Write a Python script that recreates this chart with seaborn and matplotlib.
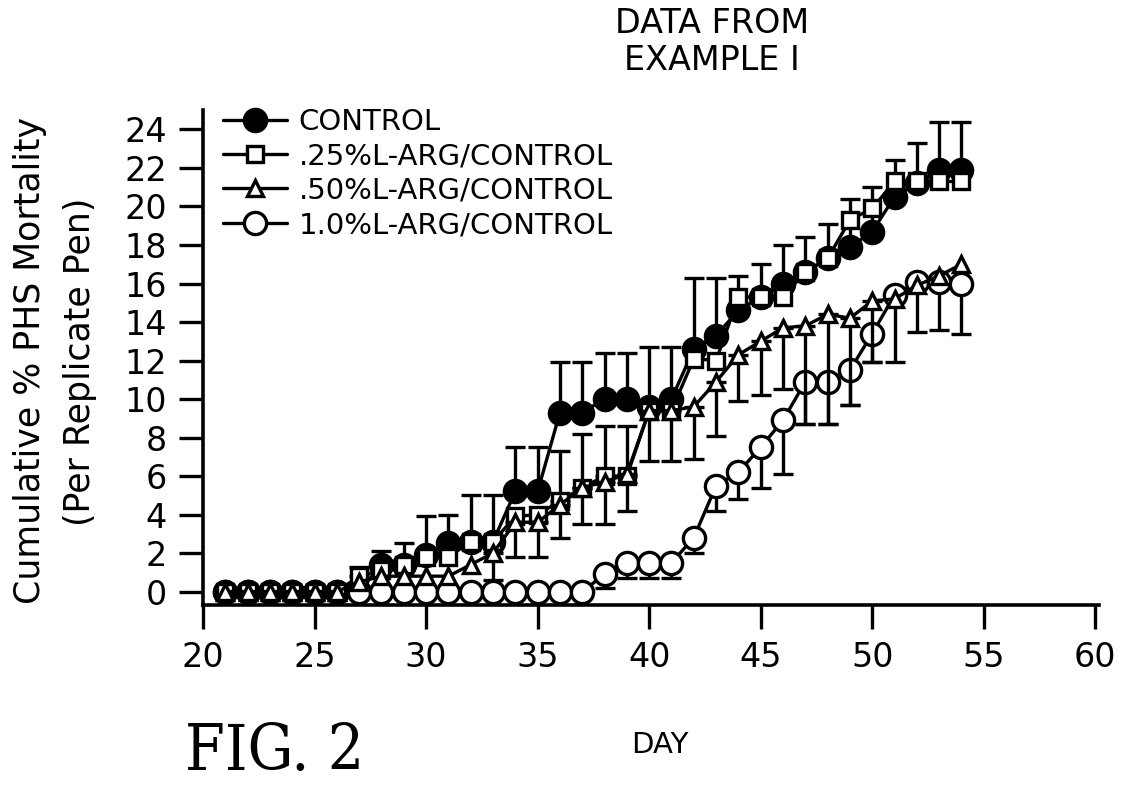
import numpy as np
import pandas as pd
import matplotlib
matplotlib.use("Agg")
import matplotlib.pyplot as plt
import seaborn as sns

# days 21..54
days = list(range(21, 55))

labels = ["CONTROL", ".25%L-ARG/CONTROL", ".50%L-ARG/CONTROL", "1.0%L-ARG/CONTROL"]

control = [0, 0, 0, 0, 0, 0, 0, 1.4, 1.4, 1.9, 2.5, 2.6, 2.6, 5.2, 5.2, 9.3, 9.3,
           10.0, 10.0, 9.6, 10.0, 12.6, 13.3, 14.6, 15.3, 16.0, 16.6, 17.3, 17.9,
           18.7, 20.5, 21.2, 21.9, 21.9]
control_up = [0, 0, 0, 0, 0, 0, 0, 0.7, 0, 0, 1.5, 0, 0, 2.3, 2.3, 2.6, 2.6,
              2.4, 2.4, 3.1, 2.7, 3.7, 3.0, 1.8, 1.7, 2.0, 1.8, 1.8, 2.5,
              2.3, 1.9, 2.1, 2.5, 2.5]

arg25 = [0, 0, 0, 0, 0, 0, 0.8, 1.1, 1.4, 1.8, 1.8, 2.6, 2.6, 3.9, 4.0, 4.7, 5.4,
         6.0, 6.0, 9.4, 9.4, 12.1, 12.0, 15.3, 15.3, 15.3, 16.6, 17.3, 19.3,
         19.9, 21.3, 21.3, 21.3, 21.3]
arg25_up = [0, 0, 0, 0, 0, 0, 0.5, 0, 1.1, 2.1, 0, 2.4, 2.4, 0, 0, 2.6, 2.8,
            2.6, 2.6, 0, 0, 0, 0, 0, 0, 0, 0, 0, 0,
            0, 0, 0, 0, 0]

arg50 = [0, 0, 0, 0, 0, 0, 0.5, 0.8, 0.8, 0.8, 0.8, 1.4, 2.0, 3.6, 3.6, 4.5, 5.4,
         5.7, 6.1, 9.4, 9.4, 9.6, 10.9, 12.3, 13.0, 13.7, 13.8, 14.4, 14.2,
         15.1, 15.2, 15.9, 16.4, 17.0]
arg50_down = [0, 0, 0, 0, 0, 0, 0, 0, 0, 0, 0, 0, 1.4, 1.8, 1.8, 1.7, 1.9,
              2.2, 1.9, 2.6, 2.6, 2.7, 2.8, 2.4, 2.8, 3.2, 5.1, 5.7, 4.5,
              3.2, 0, 0, 0, 0]

arg10 = [0, 0, 0, 0, 0, 0, 0, 0, 0, 0, 0, 0, 0, 0, 0, 0, 0,
         0.9, 1.5, 1.5, 1.5, 2.8, 5.5, 6.2, 7.5, 8.9, 10.9, 10.9, 11.5,
         13.4, 15.4, 16.1, 16.1, 16.0]
arg10_down = [0, 0, 0, 0, 0, 0, 0, 0, 0, 0, 0, 0, 0, 0, 0, 0, 0,
              0.7, 0.8, 0.8, 0.8, 0.8, 1.3, 1.4, 2.1, 2.8, 2.2, 2.2, 1.8,
              1.5, 3.5, 2.6, 2.5, 2.6]

sns.set_style("ticks")
plt.rcParams["font.family"] = ["DejaVu Sans"]
plt.rcParams["text.color"] = "black"

fig = plt.figure(figsize=(11.28, 7.93), dpi=100)
ax = fig.add_axes([0.180, 0.237, 0.794, 0.624])

lw = 2.4
series = [
    # values, up, down, marker, size, face, zorder
    (control, control_up, None, "o", 16, "black", 3),
    (arg10, None, arg10_down, "o", 16, "white", 4),
    (arg25, arg25_up, None, "s", 12, "white", 5),
    (arg50, None, arg50_down, "^", 11, "white", 6),
]
names = [labels[0], labels[3], labels[1], labels[2]]

for (vals, up, down, mk, ms, face, z), name in zip(series, names):
    sns.lineplot(x=days, y=vals, ax=ax, color="black", lw=lw, marker=mk,
                 markersize=ms, markerfacecolor=face, markeredgecolor="black",
                 markeredgewidth=2.4, zorder=z, label=name)
    up_a = np.array(up if up is not None else [0] * len(days), dtype=float)
    dn_a = np.array(down if down is not None else [0] * len(days), dtype=float)
    m = (up_a > 0) | (dn_a > 0)
    d = np.array(days)[m]
    v = np.array(vals)[m]
    ax.errorbar(d, v, yerr=[dn_a[m], up_a[m]], fmt="none", ecolor="black",
                elinewidth=lw, capsize=7, capthick=lw, zorder=z - 0.5)

h, l = ax.get_legend_handles_labels()
order = [labels.index(x) for x in l]
hl = sorted(zip(order, h, l))
ax.legend([x[1] for x in hl], [x[2] for x in hl], loc="upper left",
          bbox_to_anchor=(0.022, 1.005), frameon=False, fontsize=21,
          handlelength=2.2, handletextpad=0.4, labelspacing=0.22,
          borderpad=0, borderaxespad=0, labelcolor="black")

ax.set_xlim(20, 60.15)
ax.set_ylim(-0.7, 25)
ax.set_xticks(range(20, 61, 5))
ax.set_yticks(range(0, 25, 2))
ax.tick_params(axis="both", direction="out", length=17, width=2.4,
               labelsize=24, pad=9, color="black", labelcolor="black")
for s in ["top", "right"]:
    ax.spines[s].set_visible(False)
for s in ["left", "bottom"]:
    ax.spines[s].set_linewidth(2.6)
    ax.spines[s].set_color("black")
ax.set_xlabel("")
ax.set_ylabel("")

fig.text(30 / 1128, 1 - 360 / 793, "Cumulative % PHS Mortality", rotation=90,
         ha="center", va="center", fontsize=25)
fig.text(80 / 1128, 1 - 362 / 793, "(Per Replicate Pen)", rotation=90,
         ha="center", va="center", fontsize=25)
fig.text(712 / 1128, 1 - 42 / 793, "DATA FROM\nEXAMPLE I", ha="center",
         va="center", fontsize=24, linespacing=1.12)
fig.text(660 / 1128, 1 - 745 / 793, "DAY", ha="center", va="center", fontsize=21)
fig.text(185 / 1128, 1 - 752 / 793, "FIG. 2", ha="left", va="center",
         fontsize=46, family="DejaVu Serif", fontstretch="condensed")

fig.savefig("out.png", dpi=100)
